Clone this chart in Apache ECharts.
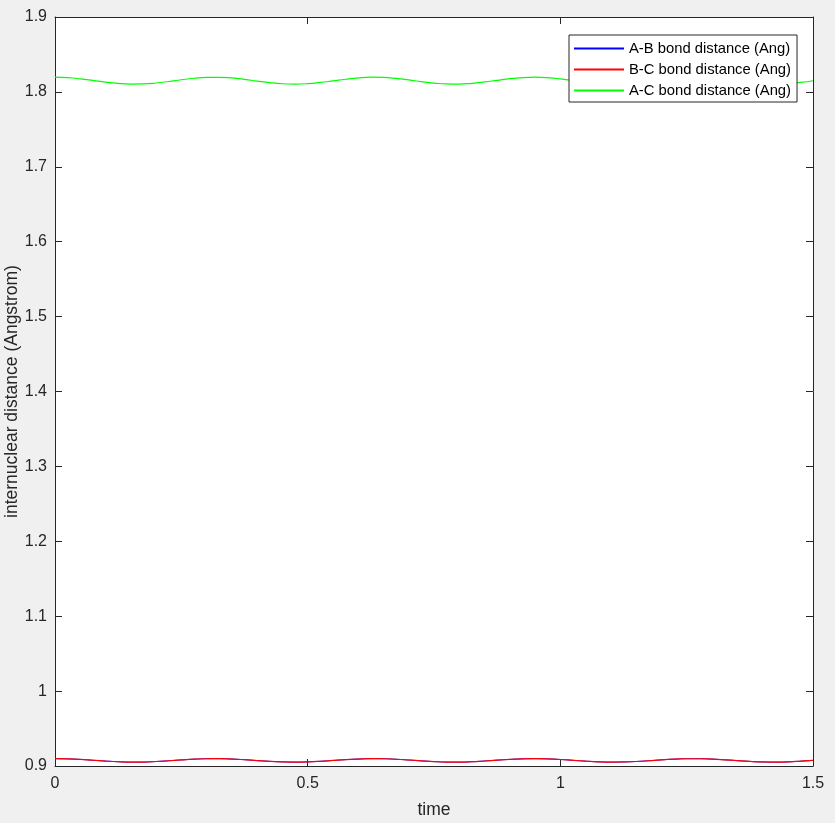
<!DOCTYPE html>
<html>
<head>
<meta charset="utf-8">
<script src="https://cdn.jsdelivr.net/npm/echarts@6/dist/echarts.min.js"></script>
<style>
html,body{margin:0;padding:0;background:#f0f0f0;}
#c{width:835px;height:823px;}
</style>
</head>
<body>
<div id="c"></div>
<script>
const time = [0,0.025,0.05,0.075,0.1,0.125,0.15,0.175,0.2,0.225,0.25,0.275,0.3,0.325,0.35,0.375,0.4,0.425,0.45,0.475,0.5,0.525,0.55,0.575,0.6,0.625,0.65,0.675,0.7,0.725,0.75,0.775,0.8,0.825,0.85,0.875,0.9,0.925,0.95,0.975,1,1.025,1.05,1.075,1.1,1.125,1.15,1.175,1.2,1.225,1.25,1.275,1.3,1.325,1.35,1.375,1.4,1.425,1.45,1.475,1.5];
const abDist = [0.9098,0.9095,0.9088,0.9077,0.9066,0.9057,0.9052,0.9053,0.9060,0.9070,0.9081,0.9091,0.9097,0.9098,0.9093,0.9084,0.9073,0.9062,0.9055,0.9052,0.9055,0.9063,0.9074,0.9085,0.9093,0.9098,0.9097,0.9090,0.9080,0.9069,0.9059,0.9053,0.9052,0.9057,0.9067,0.9078,0.9088,0.9096,0.9098,0.9095,0.9087,0.9076,0.9065,0.9056,0.9052,0.9054,0.9060,0.9070,0.9082,0.9091,0.9097,0.9097,0.9092,0.9083,0.9072,0.9061,0.9054,0.9052,0.9055,0.9064,0.9075];
const bcDist = [0.9098,0.9095,0.9088,0.9077,0.9066,0.9057,0.9052,0.9053,0.9060,0.9070,0.9081,0.9091,0.9097,0.9098,0.9093,0.9084,0.9073,0.9062,0.9055,0.9052,0.9055,0.9063,0.9074,0.9085,0.9093,0.9098,0.9097,0.9090,0.9080,0.9069,0.9059,0.9053,0.9052,0.9057,0.9067,0.9078,0.9088,0.9096,0.9098,0.9095,0.9087,0.9076,0.9065,0.9056,0.9052,0.9054,0.9060,0.9070,0.9082,0.9091,0.9097,0.9097,0.9092,0.9083,0.9072,0.9061,0.9054,0.9052,0.9055,0.9064,0.9075];
const acDist = [1.8196,1.8190,1.8175,1.8154,1.8131,1.8114,1.8105,1.8107,1.8119,1.8139,1.8162,1.8182,1.8194,1.8195,1.8186,1.8168,1.8145,1.8124,1.8109,1.8104,1.8110,1.8126,1.8147,1.8169,1.8187,1.8196,1.8193,1.8180,1.8160,1.8137,1.8118,1.8106,1.8105,1.8115,1.8133,1.8155,1.8177,1.8191,1.8196,1.8190,1.8174,1.8152,1.8130,1.8112,1.8104,1.8107,1.8120,1.8141,1.8163,1.8183,1.8194,1.8195,1.8185,1.8166,1.8144,1.8123,1.8108,1.8104,1.8111,1.8127,1.8149];
const seriesNames = ['A-B bond distance (Ang)','B-C bond distance (Ang)','A-C bond distance (Ang)'];
const seriesColors = ['#0000ff','#ff0000','#00ff00'];
const xLabel = 'time';
const yLabel = 'internuclear distance (Angstrom)';

const font = 'Arial, "Liberation Sans", Helvetica, sans-serif';
const axisColor = '#262626';
function pairs(ys){ return time.map((t,i)=>[t, ys[i]]); }

const chart = echarts.init(document.getElementById('c'));
const baseX = {
  type:'value', min:0, max:1.5, interval:0.5,
  axisLine:{show:true, onZero:false, lineStyle:{color:axisColor, width:1}},
  axisTick:{show:true, inside:true, length:7, lineStyle:{color:axisColor}},
  splitLine:{show:false}
};
const baseY = {
  type:'value', min:0.9, max:1.9, interval:0.1,
  axisLine:{show:true, onZero:false, lineStyle:{color:axisColor, width:1}},
  axisTick:{show:true, inside:true, length:7, lineStyle:{color:axisColor}},
  splitLine:{show:false}
};
chart.setOption({
  backgroundColor:'#f0f0f0',
  animation:false,
  grid:{left:55, right:22, top:17, bottom:57, show:true, backgroundColor:'#ffffff', borderWidth:0,
        containLabel:false, outerBoundsMode:'none'},
  xAxis:[
    Object.assign({}, baseX, {position:'bottom',
      name:xLabel, nameLocation:'middle', nameGap:35, nameMoveOverlap:false,
      nameTextStyle:{fontFamily:font, fontSize:17.5, color:axisColor},
      axisLabel:{show:true, margin:10, fontFamily:font, fontSize:16, color:axisColor,
        formatter:v=>String(Math.round(v*10)/10)}}),
    Object.assign({}, baseX, {position:'top', axisLabel:{show:false}})
  ],
  yAxis:[
    Object.assign({}, baseY, {position:'left',
      name:yLabel, nameLocation:'middle', nameGap:34, nameMoveOverlap:false,
      nameTextStyle:{fontFamily:font, fontSize:17.5, color:axisColor},
      axisLabel:{show:true, margin:8, fontFamily:font, fontSize:16, color:axisColor,
        formatter:v=>String(Math.round(v*10)/10)}}),
    Object.assign({}, baseY, {position:'right', axisLabel:{show:false}})
  ],
  legend:{
    show:true, orient:'vertical', left:569, top:35,
    data:seriesNames,
    backgroundColor:'#ffffff', borderColor:'#262626', borderWidth:1, borderRadius:0,
    padding:[6,6,4,4], itemGap:6, itemWidth:50, itemHeight:14,
    itemStyle:{opacity:0},
    textStyle:{fontFamily:font, fontSize:14.8, color:'#000000', lineHeight:14},
    selectedMode:false
  },
  series:[
    {name:seriesNames[0], type:'line', data:pairs(abDist), smooth:true, symbol:'none', z:2,
     lineStyle:{color:seriesColors[0], width:1}, itemStyle:{color:seriesColors[0]}},
    {name:seriesNames[1], type:'line', data:pairs(bcDist), smooth:true, symbol:'none', z:3,
     lineStyle:{color:seriesColors[1], width:1.2}, itemStyle:{color:seriesColors[1]}},
    {name:seriesNames[2], type:'line', data:pairs(acDist), smooth:true, symbol:'none', z:3,
     lineStyle:{color:seriesColors[2], width:1.2}, itemStyle:{color:seriesColors[2]}}
  ]
});
</script>
</body>
</html>
